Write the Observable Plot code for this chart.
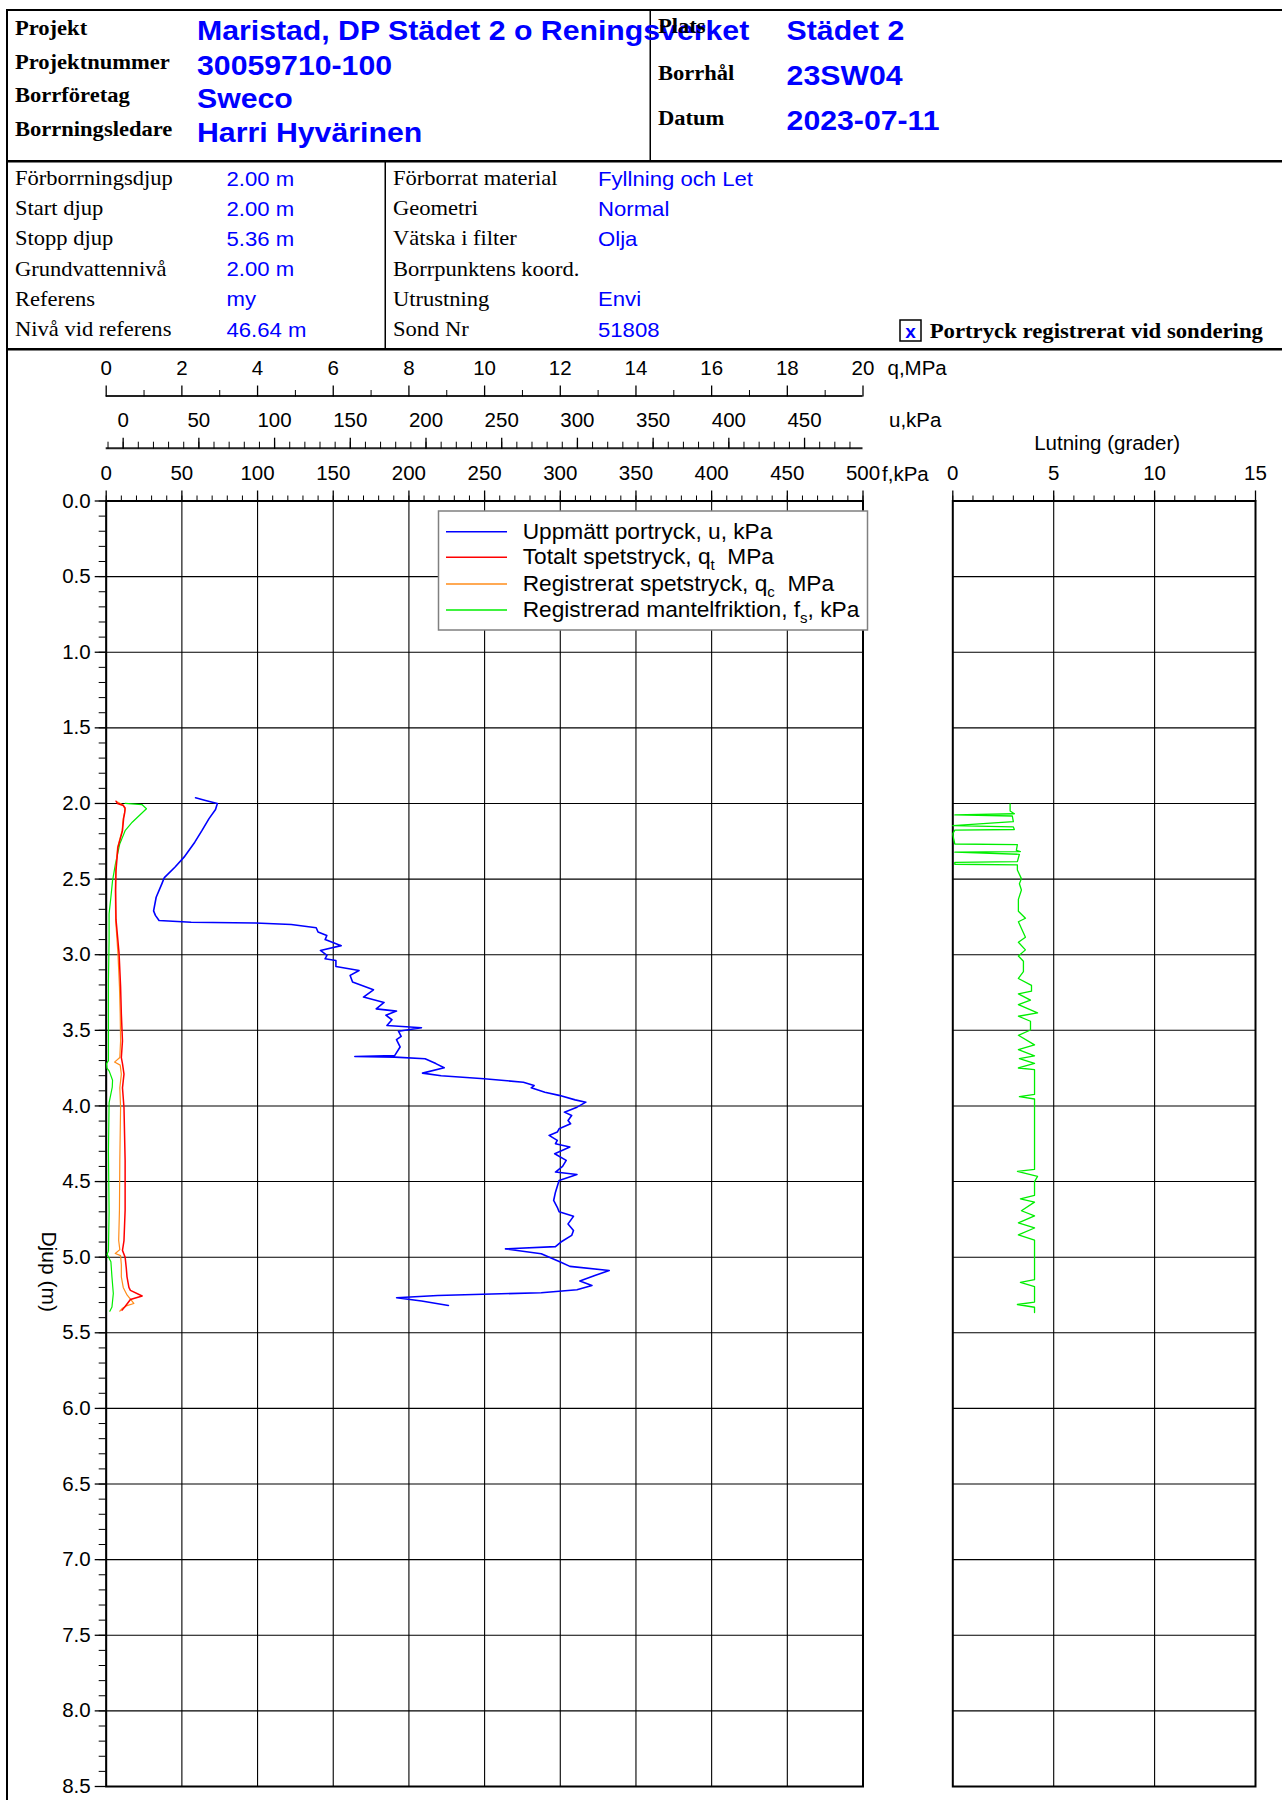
<!DOCTYPE html>
<html>
<head>
<meta charset="utf-8">
<script src="https://cdn.jsdelivr.net/npm/d3@7"></script>
<script src="https://cdn.jsdelivr.net/npm/@observablehq/plot@0.6"></script>
<style>
  html, body { margin: 0; padding: 0; background: #fff; overflow: hidden; }
  #page { position: relative; width: 1282px; height: 1800px; }
  #page > svg { position: absolute; left: 0; top: 0; }
</style>
</head>
<body>
<div id="page"></div>
<script>
// ---------- Header information ----------
const headerLabels = ["Projekt", "Projektnummer", "Borrföretag", "Borrningsledare"];
const headerValues = ["Maristad, DP Städet 2 o Reningsverket", "30059710-100", "Sweco", "Harri Hyvärinen"];
const siteLabels = ["Plats", "Borrhål", "Datum"];
const siteValues = ["Städet 2", "23SW04", "2023-07-11"];
const infoLabels = ["Förborrningsdjup", "Start djup", "Stopp djup", "Grundvattennivå", "Referens", "Nivå vid referens"];
const infoValues = ["2.00 m", "2.00 m", "5.36 m", "2.00 m", "my", "46.64 m"];
const probeLabels = ["Förborrat material", "Geometri", "Vätska i filter", "Borrpunktens koord.", "Utrustning", "Sond Nr"];
const probeValues = ["Fyllning och Let", "Normal", "Olja", "", "Envi", "51808"];
const porePressureNote = "Portryck registrerat vid sondering";

// ---------- Axis ticks ----------
const qTicks = [0, 2, 4, 6, 8, 10, 12, 14, 16, 18, 20];
const qMinorTicks = [1, 3, 5, 7, 9, 11, 13, 15, 17, 19];
const uTicks = [0, 50, 100, 150, 200, 250, 300, 350, 400, 450];
const uMinorTicks = d3.range(-10, 481, 10);
const fTicks = [0, 50, 100, 150, 200, 250, 300, 350, 400, 450, 500];
const fMinorTicks = d3.range(0, 501, 10);
const depthTicks = d3.range(0, 17.5).map(i => i * 0.5);
const depthMinorTicks = d3.range(0, 86).map(i => i / 10);
const tiltTicks = [0, 5, 10, 15];
const tiltMinorTicks = d3.range(0, 16);

// ---------- Sounding data ----------
// Measured pore pressure u (kPa)
const uDepth = [1.962, 1.98, 2.00, 2.04, 2.10, 2.18, 2.256, 2.355, 2.42, 2.49, 2.53, 2.62, 2.71, 2.74, 2.774, 2.785, 2.79, 2.80, 2.822, 2.85, 2.873, 2.90, 2.94, 2.972, 3.005, 3.027, 3.038, 3.078, 3.104, 3.137, 3.18, 3.232, 3.28, 3.316, 3.358, 3.373, 3.40, 3.43, 3.468, 3.483, 3.506, 3.54, 3.562, 3.61, 3.666, 3.673, 3.677, 3.688, 3.72, 3.748, 3.783, 3.80, 3.82, 3.843, 3.865, 3.88, 3.909, 3.93, 3.96, 3.975, 4.008, 4.041, 4.063, 4.096, 4.118, 4.151, 4.173, 4.195, 4.228, 4.25, 4.272, 4.316, 4.36, 4.40, 4.437, 4.453, 4.493, 4.57, 4.625, 4.67, 4.70, 4.73, 4.78, 4.823, 4.856, 4.90, 4.93, 4.945, 4.977, 5.033, 5.061, 5.088, 5.121, 5.158, 5.187, 5.215, 5.235, 5.253, 5.268, 5.29, 5.319];
const uValue = [47.8, 54.4, 62.2, 61.0, 56.7, 52.0, 47.3, 40.2, 34.3, 27.2, 25.6, 21.8, 20.1, 21.3, 23.7, 44.9, 87.4, 111, 127.5, 128.7, 134.5, 133.4, 144, 130.3, 134.6, 133.3, 140.5, 140.5, 155.8, 149.9, 151.5, 165.3, 158.7, 172.3, 167.1, 180.5, 173.5, 177.5, 174.2, 197, 181.8, 183.6, 180.5, 182.9, 179.4, 153, 179.4, 199.4, 206.5, 212, 197.7, 210, 238.4, 264.3, 271.4, 269.5, 278.5, 287.9, 298.5, 305.6, 299.7, 291.4, 296.2, 293.8, 295.5, 287.9, 286.7, 281.3, 286.7, 285.5, 295, 285, 292.6, 290.2, 285.5, 299.7, 287.9, 285.5, 284.3, 286.7, 287.9, 297.4, 293.8, 297.4, 296.2, 289.1, 285.5, 252.5, 276.1, 289.1, 295, 321, 311.5, 301.6, 309.6, 299.7, 276.1, 207.7, 180.6, 197.1, 214.8];

// Total cone resistance q_t (MPa)
const qtDepth = [1.985, 2.00, 2.013, 2.03, 2.06, 2.10, 2.18, 2.29, 2.44, 2.575, 2.77, 2.99, 3.21, 3.39, 3.57, 3.68, 3.72, 3.79, 3.88, 4.01, 4.36, 4.69, 4.89, 4.955, 5.00, 5.07, 5.13, 5.20, 5.22, 5.257, 5.28, 5.326, 5.35];
const qtValue = [0.26, 0.30, 0.45, 0.50, 0.49, 0.46, 0.43, 0.31, 0.26, 0.25, 0.26, 0.34, 0.38, 0.40, 0.43, 0.40, 0.43, 0.47, 0.43, 0.47, 0.50, 0.50, 0.47, 0.43, 0.50, 0.53, 0.55, 0.60, 0.64, 0.95, 0.64, 0.50, 0.42];

// Recorded cone resistance q_c (MPa)
const qcDepth = [1.99, 2.01, 2.04, 2.10, 2.18, 2.29, 2.44, 2.58, 2.77, 2.99, 3.21, 3.39, 3.57, 3.68, 3.71, 3.73, 3.79, 3.88, 4.01, 4.36, 4.69, 4.89, 4.95, 4.976, 4.99, 5.05, 5.13, 5.20, 5.25, 5.306, 5.32, 5.34, 5.357];
const qcValue = [0.30, 0.45, 0.50, 0.45, 0.42, 0.30, 0.25, 0.24, 0.25, 0.31, 0.35, 0.37, 0.38, 0.36, 0.22, 0.37, 0.40, 0.36, 0.38, 0.36, 0.35, 0.33, 0.36, 0.24, 0.38, 0.40, 0.40, 0.45, 0.55, 0.73, 0.55, 0.42, 0.36];

// Recorded sleeve friction f_s (kPa)
const fsDepth = [2.00, 2.007, 2.035, 2.068, 2.124, 2.18, 2.266, 2.40, 2.51, 2.62, 2.73, 2.905, 3.17, 3.47, 3.70, 3.72, 3.75, 3.77, 3.83, 3.876, 3.98, 4.30, 4.70, 4.96, 4.98, 5.03, 5.13, 5.24, 5.33, 5.357];
const fsValue = [12.5, 23.6, 26.6, 23.1, 17.2, 12.5, 9.0, 6.1, 4.2, 3.1, 1.9, 1.9, 1.5, 1.5, 1.5, 0.2, 0.5, 2.0, 4.2, 4.0, 1.9, 1.5, 1.9, 1.5, 0.6, 3.1, 3.8, 4.7, 3.8, 2.4];

// Inclination (degrees)
const tiltDepth = [2.003, 2.05, 2.068, 2.076, 2.083, 2.12, 2.146, 2.155, 2.172, 2.176, 2.20, 2.24, 2.268, 2.272, 2.31, 2.318, 2.322, 2.336, 2.385, 2.389, 2.402, 2.406, 2.44, 2.497, 2.531, 2.572, 2.634, 2.713, 2.759, 2.782, 2.884, 2.918, 2.968, 3.009, 3.043, 3.112, 3.157, 3.203, 3.241, 3.259, 3.30, 3.33, 3.385, 3.407, 3.44, 3.498, 3.533, 3.596, 3.628, 3.669, 3.687, 3.719, 3.749, 3.76, 3.924, 3.938, 3.954, 4.42, 4.432, 4.466, 4.50, 4.591, 4.614, 4.636, 4.693, 4.727, 4.773, 4.807, 4.853, 4.887, 5.149, 5.167, 5.194, 5.297, 5.313, 5.331, 5.366];
const tiltValue = [2.84, 2.84, 3.05, 0.1, 2.95, 3.0, 0.0, 3.0, 3.05, 0.1, 0.0, 0.05, 0.1, 3.2, 3.15, 3.35, 0.1, 3.3, 3.2, 0.1, 0.1, 3.2, 3.2, 3.4, 3.3, 3.4, 3.25, 3.25, 3.6, 3.25, 3.6, 3.25, 3.6, 3.25, 3.5, 3.5, 3.25, 3.9, 3.9, 3.25, 3.85, 3.25, 4.2, 3.25, 3.85, 3.85, 3.25, 4.05, 3.25, 4.05, 3.3, 4.05, 3.25, 4.05, 4.05, 3.3, 4.05, 4.05, 3.2, 4.2, 4.05, 4.05, 3.35, 4.05, 3.4, 4.05, 3.25, 4.05, 3.25, 4.05, 4.05, 3.35, 4.05, 4.05, 3.2, 4.05, 4.05];

const series = (depths, values) => depths.map((depth, i) => ({depth, value: values[i]}));
const poreData = series(uDepth, uValue);
const qtData = series(qtDepth, qtValue);
const qcData = series(qcDepth, qcValue);
const fsData = series(fsDepth, fsValue);
const tiltData = series(tiltDepth, tiltValue);

// ---------- Layout ----------
const W = 1282, H = 1800;
const SANS = "'Liberation Sans', Arial, Helvetica, sans-serif";
const SERIF = "'Liberation Serif', 'Times New Roman', serif";
const BLUE = "#0000ff", RED = "#ff0000", ORANGE = "#ff8c1a", GREEN = "#00ee00";
const LEFT_X0 = 105.7, LEFT_X1 = 862.5;
const RIGHT_X0 = 952.3, RIGHT_X1 = 1255;
const TOP = 500.5, BOTTOM = 1786;
const Q_AXIS_Y = 395.5, U_AXIS_Y = 447.7;
const MAX_DEPTH = 8.5;
const pxPerM = (BOTTOM - TOP) / MAX_DEPTH;

const page = d3.select("#page");

// Header frame and text
const head = page.append("svg").attr("width", W).attr("height", H);
const rect = (x, y, w, h) => head.append("rect").attr("x", x).attr("y", y).attr("width", w).attr("height", h).attr("fill", "#000");
rect(6, 9, W - 6, 2);        // top border
rect(6, 9, 2, H - 9);        // left border
rect(6, 160, W - 6, 2.5);    // below project block
rect(649.5, 10, 1.5, 151);   // project / site divider
rect(384.5, 161, 1.5, 188);  // sounding info divider
rect(6, 348, W - 6, 2.5);    // below sounding info

function addText(x, y, s, size, family, weight, fill, sx = 1) {
  return head.append("text")
    .attr("transform", `translate(${x},${y}) scale(${sx},1)`)
    .attr("font-family", family).attr("font-size", size).attr("font-weight", weight)
    .attr("fill", fill).style("white-space", "pre").text(s);
}

const headLabelY = [35, 68.5, 102, 135.5];
const headValueY = [39.5, 75, 108.3, 141.7];
headerLabels.forEach((s, i) => addText(15, headLabelY[i], s, 20.5, SERIF, "bold", "#000", 1.1));
headerValues.forEach((s, i) => addText(197, headValueY[i], s, 27.5, SANS, "bold", BLUE, 1.1));
const siteLabelY = [33.3, 80, 125];
const siteValueY = [40, 85, 130];
siteLabels.forEach((s, i) => addText(658, siteLabelY[i], s, 20.5, SERIF, "bold", "#000", 1.1));
siteValues.forEach((s, i) => addText(786.6, siteValueY[i], s, 27.5, SANS, "bold", BLUE, 1.1));

infoLabels.forEach((s, i) => addText(15, 185 + i * 30.2, s, 20.5, SERIF, "normal", "#000", 1.1));
infoValues.forEach((s, i) => addText(226.5, 185.5 + i * 30.2, s, 20.5, SANS, "normal", BLUE, 1.08));
probeLabels.forEach((s, i) => addText(393, 185 + i * 30.2, s, 20.5, SERIF, "normal", "#000", 1.1));
probeValues.forEach((s, i) => addText(598, 185.5 + i * 30.2, s, 20.5, SANS, "normal", BLUE, 1.08));

head.append("rect").attr("x", 900).attr("y", 320).attr("width", 21).attr("height", 21)
  .attr("fill", "none").attr("stroke", "#000").attr("stroke-width", 1.5);
addText(910.5, 337.5, "x", 19, SANS, "bold", BLUE).attr("text-anchor", "middle");
addText(929.7, 338, porePressureNote, 20.5, SERIF, "bold", "#000", 1.11);

// ---------- Plots ----------
const plotStyle = {background: "transparent", fontFamily: SANS, fontSize: "20.5px", overflow: "visible"};
const frameOf = (x0, x1, top) => ({
  width: W, height: H,
  marginLeft: x0, marginRight: W - x1, marginTop: top, marginBottom: H - BOTTOM,
  style: plotStyle
});
// depth scale whose top edge sits at pixel row `top`, keeping 0 m at TOP
const depthDomain = top => [-(TOP - top) / pxPerM, MAX_DEPTH];
const noLabel = () => "";
const PAD = 10;

// Main panel: friction scale, grid and depth axis
const mainPlot = Plot.plot({
  ...frameOf(LEFT_X0, LEFT_X1, TOP),
  x: {domain: [0, 500], label: null},
  y: {domain: [0, MAX_DEPTH], reverse: true, label: null},
  marks: [
    Plot.gridX(fTicks, {stroke: "#000", strokeOpacity: 1, strokeWidth: 1.1}),
    Plot.gridY(depthTicks, {stroke: "#000", strokeOpacity: 1, strokeWidth: 1.1}),
    Plot.frame({stroke: "#000", strokeWidth: 2}),
    Plot.axisX({anchor: "top", ticks: fTicks, tickSize: 11, tickPadding: PAD, strokeWidth: 1.3, label: null}),
    Plot.axisX({anchor: "top", ticks: fMinorTicks, tickSize: 6, tickFormat: noLabel, label: null}),
    Plot.axisY({anchor: "left", ticks: depthTicks, tickSize: 11, tickPadding: 4.5, tickFormat: d3.format(".1f"), strokeWidth: 1.3, label: null}),
    Plot.axisY({anchor: "left", ticks: depthMinorTicks, tickSize: 7, tickFormat: noLabel, label: null}),
    Plot.text(["f,kPa"], {text: d => d, frameAnchor: "top-right", dx: 19, dy: -20.5, textAnchor: "start", lineAnchor: "bottom"}),
    Plot.text(["Djup (m)"], {text: d => d, frameAnchor: "left", dx: -57.7, dy: 87.7, rotate: 90, fontSize: 21}),
    Plot.line(fsData, {x: "value", y: "depth", stroke: GREEN, strokeWidth: 1.2})
  ]
});

// Cone resistance scale (MPa)
const qPlot = Plot.plot({
  ...frameOf(LEFT_X0, LEFT_X1, Q_AXIS_Y),
  x: {domain: [0, 20], label: null},
  y: {domain: depthDomain(Q_AXIS_Y), reverse: true, axis: null, label: null},
  marks: [
    Plot.ruleY([depthDomain(Q_AXIS_Y)[0]], {stroke: "#222", strokeWidth: 2}),
    Plot.axisX({anchor: "top", ticks: qTicks, tickSize: 11, tickPadding: PAD, strokeWidth: 1.3, label: null}),
    Plot.axisX({anchor: "top", ticks: qMinorTicks, tickSize: 6.5, tickFormat: noLabel, label: null}),
    Plot.text(["q,MPa"], {text: d => d, frameAnchor: "top-right", dx: 24.5, dy: -21.5, textAnchor: "start", lineAnchor: "bottom"}),
    Plot.line(qcData, {x: "value", y: "depth", stroke: ORANGE, strokeWidth: 1.2}),
    Plot.line(qtData, {x: "value", y: "depth", stroke: RED, strokeWidth: 1.5})
  ]
});

// Pore pressure scale (kPa)
const uPlot = Plot.plot({
  ...frameOf(LEFT_X0, LEFT_X1, U_AXIS_Y),
  x: {domain: [-11.2, 488.6], label: null},
  y: {domain: depthDomain(U_AXIS_Y), reverse: true, axis: null, label: null},
  marks: [
    Plot.ruleY([depthDomain(U_AXIS_Y)[0]], {stroke: "#222", strokeWidth: 2}),
    Plot.axisX({anchor: "top", ticks: uTicks, tickSize: 11, tickPadding: PAD, strokeWidth: 1.3, label: null}),
    Plot.axisX({anchor: "top", ticks: uMinorTicks, tickSize: 7, tickFormat: noLabel, label: null}),
    Plot.text(["u,kPa"], {text: d => d, frameAnchor: "top-right", dx: 26, dy: -21, textAnchor: "start", lineAnchor: "bottom"}),
    Plot.line(poreData, {x: "value", y: "depth", stroke: BLUE, strokeWidth: 1.6})
  ]
});

// Inclination panel
const tiltPlot = Plot.plot({
  ...frameOf(RIGHT_X0, RIGHT_X1, TOP),
  x: {domain: [0, 15], label: null},
  y: {domain: [0, MAX_DEPTH], reverse: true, axis: null, label: null},
  marks: [
    Plot.gridX([5, 10], {stroke: "#000", strokeOpacity: 1, strokeWidth: 1.1}),
    Plot.gridY(depthTicks, {stroke: "#000", strokeOpacity: 1, strokeWidth: 1.1}),
    Plot.frame({stroke: "#000", strokeWidth: 2}),
    Plot.axisX({anchor: "top", ticks: tiltTicks, tickSize: 11, tickPadding: PAD, strokeWidth: 1.3, label: null}),
    Plot.axisX({anchor: "top", ticks: tiltMinorTicks, tickSize: 6, tickFormat: noLabel, label: null}),
    Plot.text(["Lutning (grader)"], {text: d => d, frameAnchor: "top", dx: 3, dy: -51.5, lineAnchor: "bottom"}),
    Plot.line(tiltData, {x: "value", y: "depth", stroke: GREEN, strokeWidth: 1.3})
  ]
});

for (const p of [mainPlot, qPlot, uPlot, tiltPlot]) page.node().appendChild(p);

// ---------- Legend ----------
const legendItems = [
  {color: BLUE, parts: [["Uppmätt portryck, u, kPa"]]},
  {color: RED, parts: [["Totalt spetstryck, q"], ["t", "sub"], ["  MPa"]]},
  {color: ORANGE, parts: [["Registrerat spetstryck, q"], ["c", "sub"], ["  MPa"]]},
  {color: GREEN, parts: [["Registrerad mantelfriktion, f"], ["s", "sub"], [", kPa"]]}
];
const legend = page.append("svg").attr("width", W).attr("height", H);
legend.append("rect").attr("x", 438.5).attr("y", 511).attr("width", 429).attr("height", 119)
  .attr("fill", "#fff").attr("stroke", "#808080").attr("stroke-width", 1.5);
const rowY = [531.7, 557.3, 584, 610];
legendItems.forEach((item, i) => {
  legend.append("line").attr("x1", 446).attr("x2", 507).attr("y1", rowY[i]).attr("y2", rowY[i])
    .attr("stroke", item.color).attr("stroke-width", 1.5);
  const t = legend.append("text").attr("x", 522.7).attr("y", rowY[i] + 7)
    .attr("font-family", SANS).attr("font-size", 22.7).attr("fill", "#000").style("white-space", "pre");
  let shifted = false;
  item.parts.forEach(([s, kind]) => {
    const span = t.append("tspan").text(s);
    if (kind === "sub") { span.attr("font-size", 15).attr("dy", 6); shifted = true; }
    else if (shifted) { span.attr("dy", -6); shifted = false; }
  });
});
</script>
</body>
</html>
